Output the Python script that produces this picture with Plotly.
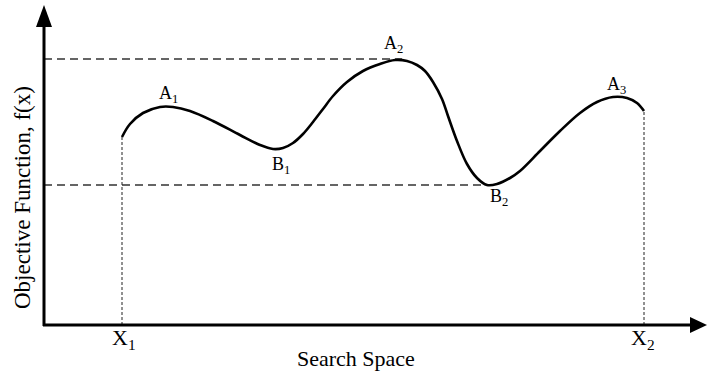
import plotly.graph_objects as go

# Objective function sampled along the search space (x: search space, y: f(x))
search_x = [78, 86, 99, 116, 129, 146, 169, 196, 216, 229, 239, 249, 259, 269, 279,
            289, 303, 319, 336, 351, 363, 373, 381, 389, 398, 404, 413, 423, 433, 443,
            453, 466, 476, 496, 516, 536, 553, 569, 583, 593, 600]
objective_f = [188, 201, 212, 218, 218, 214, 204, 190, 180, 176, 177, 182, 191, 203, 216,
               229, 243, 254, 261, 265, 264, 260, 254, 243, 226, 209, 184, 161, 147, 140,
               141, 147, 154, 174, 194, 212, 223, 228, 227, 222, 214]

# Named extrema on the curve
extrema_names = ["A<sub>1</sub>", "B<sub>1</sub>", "A<sub>2</sub>", "B<sub>2</sub>", "A<sub>3</sub>"]
extrema_x = [122, 235, 353, 443, 572]
extrema_f = [218, 176, 265, 140, 228]
extrema_is_max = [True, False, True, False, True]

# Bounds of the search space
bound_names = ["X<sub>1</sub>", "X<sub>2</sub>"]
bound_x = [78, 600]
bound_f = [188, 214]

FONT = "'Liberation Serif', 'Times New Roman', serif"
X_MIN, X_MAX = -44, 664
Y_MIN, Y_MAX = -48, 325

# label offsets in pixels (dx, dy) for each extremum
label_offsets = [(2, -1), (2, 1), (-4, 2), (12, 5), (0, -2)]

fig = go.Figure()

# Reference levels: global maximum (A2) and global minimum (B2)
gmax_i, gmin_i = 2, 3
for i in (gmax_i, gmin_i):
    fig.add_trace(go.Scatter(
        x=[0, extrema_x[i] + (5 if i == gmax_i else 0)],
        y=[extrema_f[i] + (1 if i == gmax_i else 0)] * 2, mode="lines",
        line=dict(color="#333333", width=1.3, dash="8px,5px"),
        hoverinfo="skip", showlegend=False))

# Vertical markers at the bounds
for bx, bf in zip(bound_x, bound_f):
    fig.add_trace(go.Scatter(
        x=[bx, bx], y=[0, bf], mode="lines",
        line=dict(color="#222222", width=1, dash="3px,2px"),
        hoverinfo="skip", showlegend=False))

# The objective function curve
fig.add_trace(go.Scatter(
    x=search_x, y=objective_f, mode="lines",
    line=dict(color="black", width=2.6, shape="spline", smoothing=1.0),
    hoverinfo="skip", showlegend=False))

annotations = []
for name, x, f, is_max, (dx, dy) in zip(extrema_names, extrema_x, extrema_f,
                                         extrema_is_max, label_offsets):
    annotations.append(dict(
        x=x, y=f, text=name, showarrow=False,
        xshift=dx,
        yanchor="bottom" if is_max else "top",
        yshift=dy if is_max else dy - 4,
        font=dict(family=FONT, size=18, color="black")))
for name, x, dx in zip(bound_names, bound_x, (2, -1)):
    annotations.append(dict(
        x=x, y=0, text=name, showarrow=False, yanchor="top", yshift=2, xshift=dx,
        font=dict(family=FONT, size=22, color="black")))
annotations.append(dict(
    x=312, y=0, text="Search Space", showarrow=False, yanchor="top", yshift=-19,
    font=dict(family=FONT, size=22, color="black")))
annotations.append(dict(
    x=-22, y=127, text="Objective Function, f(x)", showarrow=False, textangle=-90,
    font=dict(family=FONT, size=23, color="black")))

# Axes drawn as arrows
shapes = [
    dict(type="line", x0=0, y0=-1, x1=0, y1=300, line=dict(color="black", width=3)),
    dict(type="path", path="M -8,298 L 8,298 L 0,320 Z",
         fillcolor="black", line=dict(color="black", width=0)),
    dict(type="line", x0=-1, y0=0, x1=648, y1=0, line=dict(color="black", width=3)),
    dict(type="path", path="M 646,-8 L 646,8 L 663,0 Z",
         fillcolor="black", line=dict(color="black", width=0)),
]

fig.update_layout(
    width=708, height=373,
    margin=dict(l=0, r=0, t=0, b=0),
    paper_bgcolor="white", plot_bgcolor="white",
    font=dict(family=FONT),
    xaxis=dict(range=[X_MIN, X_MAX], visible=False, fixedrange=True),
    yaxis=dict(range=[Y_MIN, Y_MAX], visible=False, fixedrange=True),
    annotations=annotations, shapes=shapes,
)

fig.write_html("out.html")
